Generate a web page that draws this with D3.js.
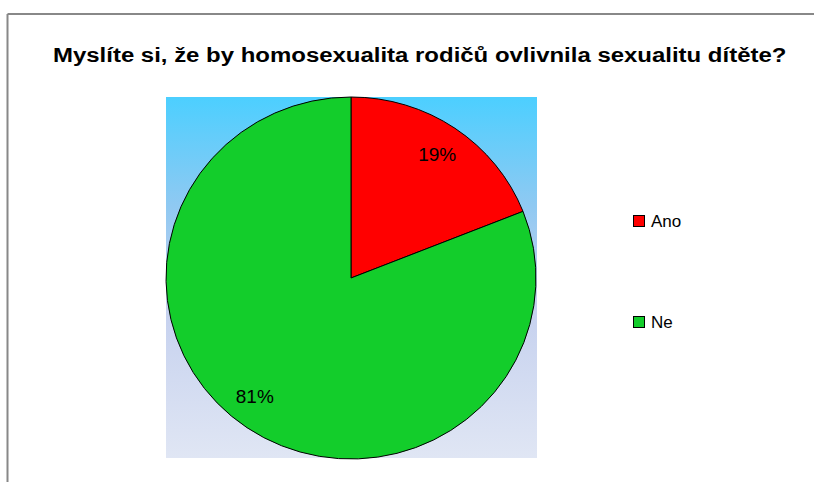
<!DOCTYPE html>
<html>
<head>
<meta charset="utf-8">
<script src="https://cdn.jsdelivr.net/npm/d3@7"></script>
<style>
  body { margin: 0; background: #fff; }
  svg { display: block; font-family: "Liberation Sans", Arial, sans-serif; }
</style>
</head>
<body>
<svg width="814" height="482"></svg>
<script>
'use strict';

// data
const categories = ["Ano", "Ne"];
const values = [19, 81];
const colors = ["#ff0000", "#13cd2b"];
const titleText = "Myslíte si, že by homosexualita rodičů ovlivnila sexualitu dítěte?";

const svg = d3.select("svg");

// outer frame (top + left only visible)
svg.append("line").attr("x1", 7.5).attr("y1", 14).attr("x2", 814).attr("y2", 14)
  .attr("stroke", "#888").attr("stroke-width", 2);
svg.append("line").attr("x1", 7.5).attr("y1", 14).attr("x2", 7.5).attr("y2", 482)
  .attr("stroke", "#888").attr("stroke-width", 2);

// title - the original glyphs render wider than Arial, so stretch horizontally
const title = svg.append("text")
  .attr("x", 0).attr("y", 0)
  .attr("font-size", 21).attr("font-weight", "bold")
  .attr("fill", "#000")
  .text(titleText);
const tw = title.node().getComputedTextLength();
title.attr("transform", "translate(53,62) scale(" + (734 / tw) + ",1)");

// plot area gradient
const defs = svg.append("defs");
const grad = defs.append("linearGradient").attr("id", "bg")
  .attr("x1", 0).attr("y1", 0).attr("x2", 0).attr("y2", 1);
grad.append("stop").attr("offset", "0%").attr("stop-color", "#4ccfff");
grad.append("stop").attr("offset", "30%").attr("stop-color", "#8fc9f2");
grad.append("stop").attr("offset", "55%").attr("stop-color", "#c3cfee");
grad.append("stop").attr("offset", "100%").attr("stop-color", "#e0e6f4");

const plot = {x: 166, y: 97, w: 371, h: 361};
svg.append("rect")
  .attr("x", plot.x).attr("y", plot.y)
  .attr("width", plot.w).attr("height", plot.h)
  .attr("fill", "url(#bg)");

// pie (slightly wider than tall, like the source)
const cx = 351, cy = 278, r = 181, sx = 185 / 181;

const pie = d3.pie().sort(null).value(d => d)
  .startAngle(0).endAngle(2 * Math.PI);
const arcs = pie(values);
const arc = d3.arc().innerRadius(0).outerRadius(r);
const labelArc = d3.arc().innerRadius(150).outerRadius(150);

const g = svg.append("g")
  .attr("transform", "translate(" + cx + "," + cy + ") scale(" + sx + ",1)");

g.selectAll("path.slice")
  .data(arcs)
  .enter().append("path")
  .attr("class", "slice")
  .attr("d", arc)
  .attr("fill", (d, i) => colors[i])
  .attr("stroke", "#000")
  .attr("stroke-width", 1)
  .attr("vector-effect", "non-scaling-stroke");

// excel pushes the big slice's label a bit further round
const nudge = [[0, 0], [-10, -6]];
const total = d3.sum(values);
svg.selectAll("text.pct")
  .data(arcs)
  .enter().append("text")
  .attr("class", "pct")
  .attr("x", (d, i) => cx + labelArc.centroid(d)[0] * sx + nudge[i][0])
  .attr("y", (d, i) => cy + labelArc.centroid(d)[1] + 7 + nudge[i][1])
  .attr("text-anchor", "middle")
  .attr("font-size", 19)
  .attr("fill", "#000")
  .text(d => Math.round(d.value / total * 100) + "%");

// legend
const legendY = [215, 316];
const legend = svg.selectAll("g.legend")
  .data(categories)
  .enter().append("g")
  .attr("class", "legend")
  .attr("transform", (d, i) => "translate(633," + legendY[i] + ")");

legend.append("rect")
  .attr("x", 0.5).attr("y", 0.5)
  .attr("width", 11).attr("height", 11)
  .attr("fill", (d, i) => colors[i])
  .attr("stroke", "#000").attr("stroke-width", 1);

legend.append("text")
  .attr("x", 18).attr("y", 11.5)
  .attr("font-size", 17)
  .attr("fill", "#000")
  .text(d => d);
</script>
</body>
</html>
